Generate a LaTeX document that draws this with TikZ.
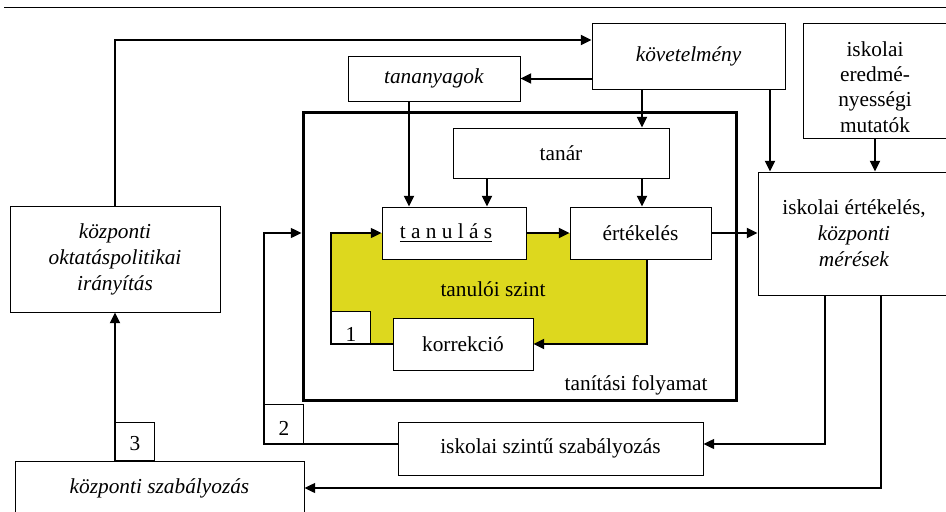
\documentclass[tikz,border=0pt]{standalone}
\usepackage{fontspec}
\setmainfont{Liberation Serif}
\usetikzlibrary{arrows.meta}
\definecolor{szintsarga}{RGB}{221,216,30}
\tikzset{every picture/.style={line width=0.75pt}}
\tikzset{
  doboz/.style={draw, fill=white, align=center, inner sep=2pt, font=\fontsize{16}{19.5}\selectfont},
  szam/.style 2 args={draw, fill=white, anchor=south west, inner sep=0pt, minimum width=29.25pt, text height=#1, text depth=#2, font=\fontsize{16}{19.5}\selectfont},
  nyil/.style={line width=1.5pt, -{Triangle[length=8pt,width=7.5pt]}},
  vissza/.style={line width=1pt, -{Triangle[length=8pt,width=7.5pt]}},
  felirat/.style={inner sep=0.75pt, align=center, font=\fontsize{16}{19}\selectfont}
}
\begin{document}
\begin{tikzpicture}[x=0.75pt,y=0.75pt,yscale=-1,xscale=1]
\useasboundingbox (0,0) rectangle (946,511);

%Straight Lines: page header rule
\draw (4,7) -- (946,7);

%Shape: Rectangle, yellow student level
\coordinate (sargaNW) at (331,233);
\coordinate (sargaSE) at (647,344);
\fill [szintsarga] (sargaNW) rectangle (sargaSE);

%Shape: Rectangle, teaching process frame
\node [draw, line width=2.25pt, minimum width=324.75pt, minimum height=216pt] (folyamat) at (519.5,256) {};

% Boxes
\node [doboz, minimum width=144.75pt, minimum height=49.5pt] (kovetelmeny) at (688.5,56) {\textit{követelmény}};
\node [doboz, minimum width=110.25pt, minimum height=86.25pt] (mutatok) at (876.5,80.5) {};
\node [doboz, minimum width=144pt, minimum height=92.25pt] (iskertekeles) at (854,233.5) {iskolai értékelés,\\\textit{központi}\\\textit{mérések}};
\node [doboz, minimum width=129pt, minimum height=33.75pt] (tananyagok) at (434,78.5) {\textit{tananyagok}};
\node [doboz, minimum width=162pt, minimum height=37.5pt] (tanar) at (561,153) {tanár};
\node [doboz, minimum width=108pt, minimum height=39pt] (tanulas) at (454,233) {\underline{t a n u l á s}\hspace*{12pt}};
\node [doboz, minimum width=105.75pt, minimum height=39pt] (ertekeles) at (640.5,233) {értékelés};
\node [doboz, minimum width=105pt, minimum height=39pt] (korrekcio) at (463,344) {korrekció};
\node [doboz, minimum width=228.75pt, minimum height=39.75pt] (iskszabaly) at (550.5,448.5) {iskolai szintű szabályozás};
\node [doboz, minimum width=216.75pt, minimum height=40.5pt] (kozszabaly) at (159.5,488) {\textit{központi szabályozás}};
\node [doboz, minimum width=157.5pt, minimum height=79.5pt] (oktiranyitas) at (115,259) {\textit{központi}\\\textit{oktatáspolitikai}\\\textit{irányítás}};

% Text Node
\node [felirat] (mutatokszoveg) at (875,87) {iskolai\\eredmé-\\nyességi\\mutatók};
% Text Node
\node [felirat] (szintfelirat) at (493,289) {tanulói szint};
% Text Node
\node [felirat, anchor=base east] (folyamatfelirat) at (709,390) {tanítási folyamat};

% Helper coordinates
\coordinate (felso) at (115,40);
\coordinate (xa) at (409,0);
\coordinate (xb) at (487,0);
\coordinate (xc) at (642,0);
\coordinate (xd) at (770,0);
\coordinate (xe) at (875,0);
\coordinate (xf) at (825,0);
\coordinate (xg) at (881,0);
\coordinate (hurok2) at (264,444);

%Straight Lines: top level
\draw [nyil] (oktiranyitas.north) -- (felso) -- (felso -| kovetelmeny.west);
\draw [nyil] (kovetelmeny.west |- tananyagok.east) -- (tananyagok.east);
\draw [nyil] (tananyagok.south -| xa) -- (tanulas.north -| xa);
\draw [nyil] (kovetelmeny.south -| xc) -- (tanar.north -| xc);
\draw [nyil] (kovetelmeny.south -| xd) -- (iskertekeles.north -| xd);
\draw [nyil] (mutatok.south -| xe) -- (iskertekeles.north -| xe);
\draw [nyil] (tanar.south -| xb) -- (tanulas.north -| xb);
\draw [nyil] (tanar.south -| xc) -- (ertekeles.north -| xc);
\draw [nyil] (tanulas.east) -- (ertekeles.west);
\draw [nyil] (ertekeles.east) -- (iskertekeles.west |- ertekeles.east);

%Straight Lines: loop 1
\draw [nyil] (ertekeles.south -| sargaSE) -- (sargaSE) -- (korrekcio.east |- sargaSE);
\draw [vissza] (korrekcio.west |- sargaSE) -- (sargaSE -| sargaNW) -- (sargaNW) -- (tanulas.west);
\node [szam={22.5pt}{1.5pt}] (egy) at (sargaSE -| sargaNW) {1};

%Straight Lines: loop 2
\draw [vissza] (iskszabaly.west |- hurok2) -- (hurok2) -- (hurok2 |- tanulas.west) -- (folyamat.west |- tanulas.west);
\draw [vissza] (iskertekeles.south -| xf) -- (xf |- hurok2) -- (iskszabaly.east |- hurok2);
\node [szam={23.25pt}{6pt}] (ketto) at (hurok2) {2};

%Straight Lines: loop 3
\draw [vissza] (iskertekeles.south -| xg) -- (xg |- kozszabaly.east) -- (kozszabaly.east);
\draw [nyil] (kozszabaly.north -| oktiranyitas.south) -- (oktiranyitas.south);
\node [szam={21.6pt}{6.9pt}] (harom) at (kozszabaly.north -| oktiranyitas.south) {3};

\end{tikzpicture}
\end{document}
